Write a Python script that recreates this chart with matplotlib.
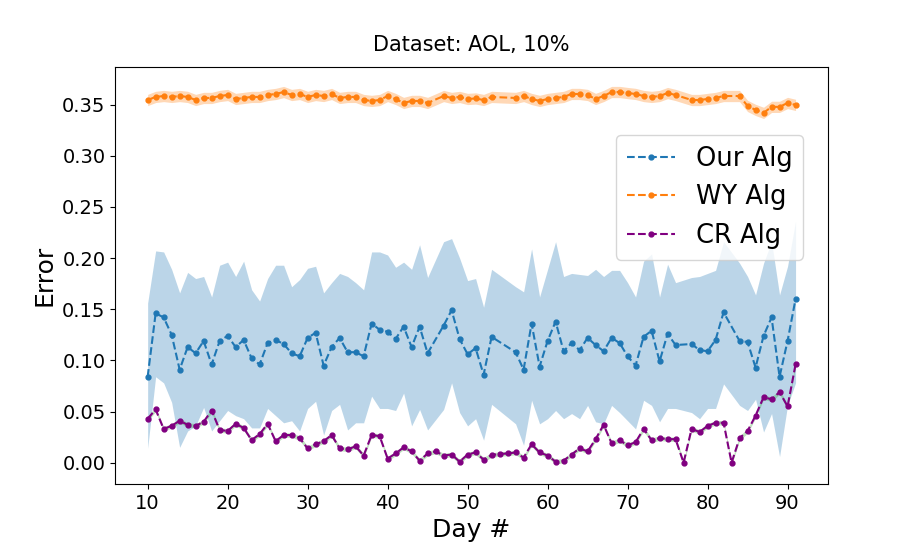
import matplotlib
matplotlib.use("Agg")
import matplotlib.pyplot as plt
import numpy as np

# days with results for Our Alg / WY Alg (a few days have no run)
days = (list(range(10, 46)) + list(range(47, 54)) + list(range(56, 77))
        + list(range(78, 83)) + list(range(84, 92)))
# CR Alg has every day
cr_days = list(range(10, 92))

our_mean = [0.084, 0.146, 0.142, 0.125, 0.091, 0.113, 0.107, 0.119, 0.096, 0.119,
            0.124, 0.113, 0.120, 0.102, 0.096, 0.117, 0.120, 0.116, 0.107, 0.104,
            0.122, 0.127, 0.095, 0.113, 0.122, 0.108, 0.108, 0.104, 0.136, 0.130,
            0.128, 0.121, 0.133, 0.113, 0.133, 0.107,
            0.134, 0.149, 0.121, 0.106, 0.112, 0.086, 0.123,
            0.108, 0.091, 0.136, 0.094, 0.119, 0.138, 0.109, 0.117, 0.110, 0.122,
            0.115, 0.109, 0.122, 0.117, 0.104, 0.095, 0.123, 0.129, 0.099, 0.126,
            0.115,
            0.116, 0.110, 0.109, 0.120, 0.147,
            0.119, 0.118, 0.093, 0.124, 0.142, 0.084, 0.119, 0.160]

our_upper = [0.156, 0.207, 0.206, 0.189, 0.166, 0.186, 0.180, 0.182, 0.162, 0.193,
             0.196, 0.182, 0.197, 0.169, 0.158, 0.180, 0.193, 0.193, 0.172, 0.179,
             0.190, 0.192, 0.166, 0.176, 0.185, 0.182, 0.176, 0.169, 0.206, 0.206,
             0.203, 0.191, 0.196, 0.189, 0.213, 0.181,
             0.216, 0.219, 0.200, 0.178, 0.180, 0.152, 0.189,
             0.172, 0.167, 0.209, 0.162, 0.189, 0.216, 0.182, 0.185, 0.184, 0.183,
             0.189, 0.182, 0.188, 0.188, 0.176, 0.162, 0.197, 0.204, 0.162, 0.194,
             0.176,
             0.181, 0.182, 0.185, 0.188, 0.216,
             0.195, 0.182, 0.164, 0.195, 0.216, 0.164, 0.192, 0.236]

our_lower = [0.014, 0.084, 0.078, 0.059, 0.015, 0.031, 0.036, 0.054, 0.031, 0.041,
             0.051, 0.046, 0.043, 0.034, 0.034, 0.053, 0.046, 0.039, 0.041, 0.031,
             0.053, 0.060, 0.027, 0.051, 0.057, 0.032, 0.039, 0.039, 0.065, 0.053,
             0.053, 0.051, 0.068, 0.036, 0.052, 0.032,
             0.052, 0.078, 0.049, 0.036, 0.043, 0.022, 0.057,
             0.038, 0.017, 0.061, 0.038, 0.043, 0.051, 0.043, 0.048, 0.043, 0.056,
             0.040, 0.038, 0.056, 0.049, 0.041, 0.033, 0.061, 0.056, 0.040, 0.053,
             0.053,
             0.049, 0.043, 0.053, 0.053, 0.077,
             0.056, 0.051, 0.062, 0.030, 0.048, 0.006, 0.056, 0.078]

wy_mean = [0.3545, 0.3575, 0.3584, 0.3575, 0.3584, 0.3575, 0.3545, 0.3565, 0.3565, 0.3584,
           0.3594, 0.3555, 0.3565, 0.3575, 0.3575, 0.3594, 0.3604, 0.3623, 0.3594, 0.3604,
           0.3575, 0.3594, 0.3584, 0.3604, 0.3565, 0.3575, 0.3575, 0.3545, 0.3536, 0.3545,
           0.3584, 0.3555, 0.3516, 0.3536, 0.3536, 0.3516,
           0.3584, 0.3565, 0.3575, 0.3555, 0.3560, 0.3545, 0.3575,
           0.3565, 0.3584, 0.3555, 0.3536, 0.3555, 0.3565, 0.3575, 0.3604, 0.3604, 0.3594,
           0.3555, 0.3584, 0.3623, 0.3623, 0.3613, 0.3604, 0.3584, 0.3575, 0.3584, 0.3613,
           0.3594,
           0.3545, 0.3545, 0.3555, 0.3565, 0.3584,
           0.3584, 0.3487, 0.3448, 0.3419, 0.3478, 0.3478, 0.3516, 0.3497]
wy_std = [0.0055] * len(wy_mean)

cr_mean = [0.043, 0.052, 0.033, 0.036, 0.041, 0.037, 0.036, 0.040, 0.051, 0.032,
           0.031, 0.038, 0.034, 0.022, 0.028, 0.038, 0.021, 0.027, 0.027, 0.024,
           0.014, 0.018, 0.021, 0.027, 0.014, 0.013, 0.016, 0.007, 0.027, 0.026,
           0.004, 0.009, 0.015, 0.011, 0.002, 0.009, 0.011, 0.007, 0.008, 0.001,
           0.008, 0.010, 0.003, 0.0075, 0.0085, 0.009, 0.010, 0.005, 0.018, 0.010,
           0.007, 0.001, 0.002, 0.008, 0.014, 0.011, 0.023, 0.037, 0.019, 0.022,
           0.017, 0.020, 0.033, 0.022, 0.024, 0.023, 0.023, 0.000, 0.033, 0.030,
           0.036, 0.039, 0.039, 0.000, 0.024, 0.031, 0.046, 0.064, 0.062, 0.069,
           0.055, 0.096]
cr_std = [0.0022] * len(cr_mean)

days = np.array(days)
cr_days = np.array(cr_days)
wy_mean = np.array(wy_mean)
wy_std = np.array(wy_std)
cr_mean = np.array(cr_mean)
cr_std = np.array(cr_std)

fig = plt.figure(figsize=(9.22, 5.53), dpi=100)
ax = fig.add_subplot(111)
fig.subplots_adjust(left=0.125, right=0.898, bottom=0.125, top=0.878)

ax.plot(days, our_mean, "--", marker="o", markersize=3.5, color="C0", label="Our Alg")
ax.fill_between(days, our_lower, our_upper, color="C0", alpha=0.3, linewidth=0)

ax.plot(days, wy_mean, "--", marker="o", markersize=3.5, color="C1", label="WY Alg")
ax.fill_between(days, wy_mean - wy_std, wy_mean + wy_std, color="C1", alpha=0.3, linewidth=0)

ax.plot(cr_days, cr_mean, "--", marker="o", markersize=3.5, color="purple", label="CR Alg")
ax.fill_between(cr_days, cr_mean - cr_std, cr_mean + cr_std, color="C2", alpha=0.3, linewidth=0)

ax.set_title("Dataset: AOL, 10%", fontsize=15, pad=12)
ax.set_xlabel("Day #", fontsize=18)
ax.set_ylabel("Error", fontsize=18)
ax.tick_params(labelsize=14)
ax.legend(fontsize=18.5, loc="upper right", bbox_to_anchor=(0.983, 0.868),
          handlelength=1.9)

plt.savefig("out.png", dpi=100)
